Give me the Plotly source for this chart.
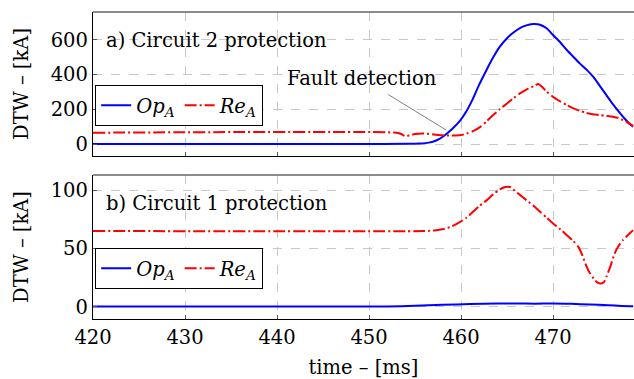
import plotly.graph_objects as go

# ---- data ----
t_a_op = [420, 450, 454, 455.5, 456.5, 457.3, 458.1, 459.0, 459.9, 460.6, 461.3, 462.0, 462.8, 463.5, 464.2, 465.0, 465.7, 466.4, 467.1, 467.6, 468.0, 468.5, 469.3, 470.0, 470.8, 471.5, 472.2, 472.9, 473.7, 474.4, 475.1, 475.8, 476.5, 477.3, 477.9, 478.4, 478.7]
v_a_op = [0, 0, 1, 3, 8, 20, 45, 85, 135, 190, 262, 345, 430, 500, 560, 610, 643, 668, 684, 691, 692, 689, 667, 628, 585, 542, 503, 465, 426, 385, 334, 282, 230, 177, 140, 112, 100]

t_a_re = [420, 453.0, 453.5, 453.9, 454.4, 455.0, 456.0, 457.0, 458.0, 459.0, 460.0, 460.6, 461.3, 462.1, 462.8, 463.5, 464.2, 465.0, 465.7, 466.4, 467.1, 467.9, 468.4, 468.8, 469.3, 470.0, 470.8, 471.5, 472.2, 472.9, 473.6, 474.3, 475.1, 475.8, 476.5, 477.1, 477.6, 478.2, 478.7]
v_a_re = [65, 65, 58, 46, 50, 58, 60, 55, 50, 49, 52, 60, 74, 99, 132, 167, 200, 234, 264, 292, 314, 334, 346, 330, 302, 272, 245, 224, 205, 192, 180, 172, 167, 162, 157, 150, 138, 122, 104]

t_b_op = [420, 450, 452, 455, 458, 461, 464, 466, 468, 470, 472, 474, 476, 477.5, 478.7]
v_b_op = [0.3, 0.3, 0.4, 1.0, 1.8, 2.5, 2.9, 3.0, 2.8, 3.0, 2.7, 2.1, 1.5, 0.9, 0.7]

t_b_re = [420, 456.0, 456.6, 457.3, 458.1, 459.0, 459.9, 460.6, 461.3, 462.0, 462.8, 463.5, 464.2, 464.7, 465.0, 465.4, 465.7, 466.4, 467.1, 467.9, 468.6, 469.3, 470.0, 470.8, 471.5, 472.2, 472.75, 473.2, 473.66, 474.0, 474.4, 474.8, 475.1, 475.5, 475.8, 476.2, 476.7, 477.1, 477.6, 478.2, 478.7]
v_b_re = [65, 65, 65.2, 65.8, 66.8, 69.0, 72.9, 76.5, 81.5, 86.5, 91.5, 96.5, 100.6, 102.5, 103.0, 102.5, 100.5, 96.0, 91.5, 86.5, 81.5, 76.5, 71.5, 66.5, 61.5, 56.5, 51.5, 44.0, 34.4, 29.0, 24.5, 21.0, 20.2, 21.0, 25.9, 34.0, 45.9, 52.0, 57.3, 62.0, 65.8]

x_ticks = [420, 430, 440, 450, 460, 470]
y_ticks_a = [0, 200, 400, 600]
y_ticks_b = [0, 50, 100]

label_op = "<i>Op</i><sub><i>A</i></sub>"
label_re = "<i>Re</i><sub><i>A</i></sub>"

FONT = "DejaVu Serif, serif"
FS = 19.5
BLUE = "#0000ff"
RED = "#ff0000"
GRID = "#c8c8c8"

fig = go.Figure()
fig.add_trace(go.Scatter(x=t_a_op, y=v_a_op, mode="lines", name=label_op,
                         line=dict(color=BLUE, width=2, shape="spline", smoothing=0.6),
                         xaxis="x", yaxis="y", legend="legend"))
fig.add_trace(go.Scatter(x=t_a_re, y=v_a_re, mode="lines", name=label_re,
                         line=dict(color=RED, width=2, dash="12px,3px,2px,3px", shape="spline", smoothing=0.6),
                         xaxis="x", yaxis="y", legend="legend"))
fig.add_trace(go.Scatter(x=t_b_op, y=v_b_op, mode="lines", name=label_op,
                         line=dict(color=BLUE, width=2, shape="spline", smoothing=0.6),
                         xaxis="x2", yaxis="y2", legend="legend2"))
fig.add_trace(go.Scatter(x=t_b_re, y=v_b_re, mode="lines", name=label_re,
                         line=dict(color=RED, width=2, dash="12px,3px,2px,3px", shape="spline", smoothing=0.6),
                         xaxis="x2", yaxis="y2", legend="legend2"))

xcommon = dict(range=[420, 478.8], tickvals=x_ticks, showgrid=True, gridcolor=GRID, griddash="dash",
               gridwidth=1, showline=True, linecolor="black", linewidth=1.3, mirror=False,
               ticks="inside", ticklen=4, tickcolor="#555", zeroline=False,
               tickfont=dict(family=FONT, size=FS, color="black"))
ycommon = dict(showgrid=True, gridcolor=GRID, griddash="dash", gridwidth=1, showline=True,
               linecolor="black", linewidth=1.3, mirror=False, ticks="inside", ticklen=4,
               tickcolor="#555", zeroline=False, tickfont=dict(family=FONT, size=FS, color="black"),
               title=dict(text="DTW – [kA]", font=dict(family=FONT, size=FS, color="black"), standoff=16))

fig.update_layout(
    width=634, height=379,
    margin=dict(l=93, r=0, t=12, b=60),
    paper_bgcolor="white", plot_bgcolor="white",
    showlegend=True,
    xaxis=dict(**xcommon, domain=[0, 1], anchor="y", showticklabels=False),
    yaxis=dict(**ycommon, domain=[0.531, 1], anchor="x", range=[-69, 761], tickvals=y_ticks_a),
    xaxis2=dict(**xcommon, domain=[0, 1], anchor="y2",
                title=dict(text="time – [ms]", font=dict(family=FONT, size=FS, color="black"), standoff=12)),
    yaxis2=dict(**ycommon, domain=[0, 0.469], anchor="x2", range=[-10.3, 113], tickvals=y_ticks_b),
    legend=dict(x=0.004, y=0.762, xanchor="left", yanchor="top", orientation="h",
                bgcolor="white", bordercolor="black", borderwidth=1,
                font=dict(family=FONT, size=FS, color="black"), itemwidth=30,
                tracegroupgap=0),
    legend2=dict(x=0.004, y=0.231, xanchor="left", yanchor="top", orientation="h",
                 bgcolor="white", bordercolor="black", borderwidth=1,
                 font=dict(family=FONT, size=FS, color="black"), itemwidth=30,
                 tracegroupgap=0),
)

# top borders (gray)
for xr, yr in (("x domain", "y domain"), ("x2 domain", "y2 domain")):
    fig.add_shape(type="line", xref=xr, yref=yr, x0=0, x1=1, y0=1, y1=1,
                  line=dict(color="#666666", width=1.3))

# panel titles
fig.add_annotation(text="a) Circuit 2 protection", xref="x domain", yref="y domain",
                   x=0.02, y=0.8, xanchor="left", yanchor="middle", showarrow=False,
                   font=dict(family=FONT, size=FS, color="black"))
fig.add_annotation(text="b) Circuit 1 protection", xref="x2 domain", yref="y2 domain",
                   x=0.02, y=0.8, xanchor="left", yanchor="middle", showarrow=False,
                   font=dict(family=FONT, size=FS, color="black"))

# fault detection annotation
fig.add_shape(type="line", xref="x", yref="y", x0=452.1, y0=285, x1=458.4, y1=80,
              line=dict(color="#808080", width=1))
fig.add_annotation(text="Fault detection", xref="x", yref="y", x=449.2, y=380,
                   showarrow=False, xanchor="center", yanchor="middle",
                   font=dict(family=FONT, size=FS, color="black"))

fig.write_html("out.html")
